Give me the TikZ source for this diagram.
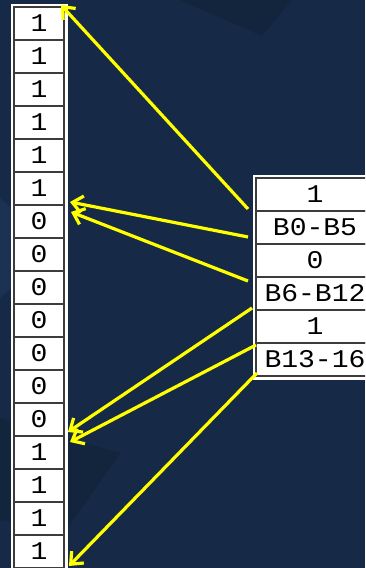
\documentclass[tikz,border=0pt]{standalone}
\usepackage{fontspec}
\newfontfamily\cellfont[FakeStretch=1.1]{Liberation Mono}
\usetikzlibrary{arrows.meta,calc}
\definecolor{navy}{RGB}{22,42,71}
\definecolor{navydark}{RGB}{19,36,61}
\definecolor{navylight}{RGB}{27,50,82}
\definecolor{cellline}{RGB}{60,60,60}
\definecolor{arrowyellow}{RGB}{255,255,0}
\begin{document}
\begin{tikzpicture}[x=1pt,y=1pt,
  bitcell/.style={draw=cellline, line width=1.2pt, fill=white,
    minimum width=50pt, minimum height=33pt, inner sep=0pt, outer sep=0pt,
    text height=16.8pt, text depth=0pt,
    font=\cellfont\fontsize{25.5}{26}\selectfont},
  fieldcell/.style={bitcell, minimum width=118pt},
  link/.style={draw=arrowyellow, line width=3.2pt,
    -{Straight Barb[length=10pt,width=17pt]}}]
\useasboundingbox (0,0) rectangle (365,568);
\clip (0,0) rectangle (365,568);

% background with faint darker / lighter facets
\fill[navy] (0,0) rectangle (365,568);
\fill[navydark] (180,568) -- (292,568) -- (262,532) -- cycle;
\fill[navydark] (0,48) -- (0,150) -- (120,115) -- (68,40) -- cycle;
\fill[navylight] (0,270) -- (11,280) -- (11,360) -- (0,370) -- cycle;

% bit column
\fill[white] (11,-3) rectangle (68,564);
\foreach \v [count=\i] in {1,1,1,1,1,1,0,0,0,0,0,0,0,1,1,1,1}
  \node[bitcell] (c\i) at (39,{544.5-33*(\i-1)}) {\v};

% field table
\fill[white] (253,188) rectangle (380,393);
\foreach \t [count=\i] in {1,B0-B5,0,B6-B12,1,B13-16}
  \node[fieldcell] (r\i) at (315,{373.5-33*(\i-1)}) {\t};

% field-to-bit connectors
\draw[link] ($(r1.south west)+(-8,2)$) -- ($(c1.north east)+(-3,2)$);
\draw[link] ($(r2.south west)+(-8,7)$) -- ($(c6.south east)+(6,3)$);
\draw[link] ($(r3.south west)+(-8,-4)$) -- ($(c6.south east)+(7,-7)$);
\draw[link] ($(r4.south west)+(-4,2)$) -- ($(c13.south east)+(4,4)$);
\draw[link] ($(r5.south west)+(0,-2)$) -- ($(c13.south east)+(6,-6)$);
\draw[link] ($(r6.south west)+(1,3)$) -- ($(c17.south east)+(5,2)$);
\end{tikzpicture}
\end{document}
